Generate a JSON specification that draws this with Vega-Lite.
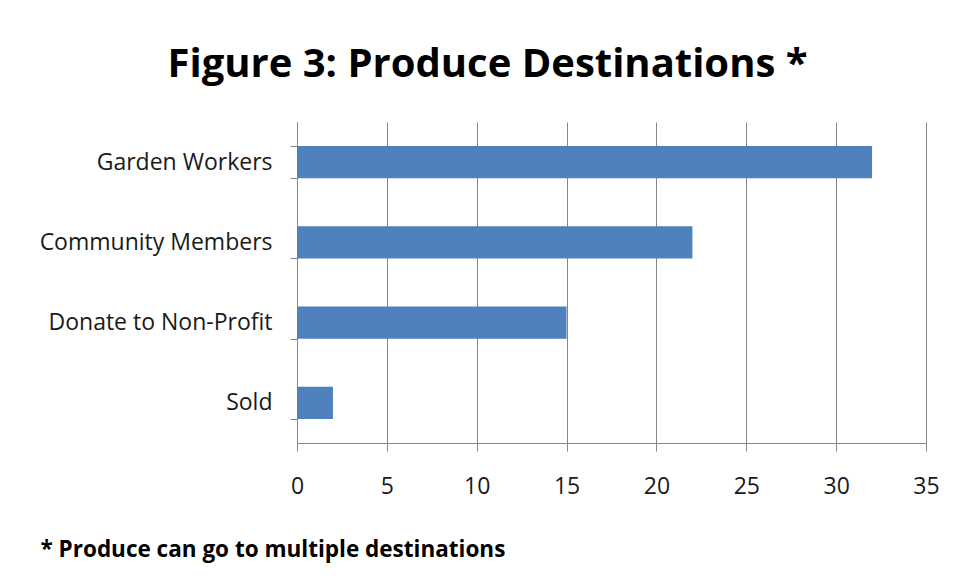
{
  "$schema": "https://vega.github.io/schema/vega-lite/v6.json",
  "autosize": {"type": "none"},
  "width": 629,
  "height": 321,
  "padding": {"left": 297, "top": 122, "right": 32, "bottom": 136},
  "background": "white",
  "title": {
    "text": "Figure 3: Produce Destinations *",
    "font": "Open Sans",
    "fontSize": 40,
    "fontWeight": "bold",
    "color": "#000000",
    "anchor": "middle",
    "frame": "group",
    "baseline": "alphabetic",
    "dx": -124,
    "offset": -6
  },
  "data": {
    "values": [
      {"destination": "Garden Workers", "count": 32},
      {"destination": "Community Members", "count": 22},
      {"destination": "Donate to Non-Profit", "count": 15},
      {"destination": "Sold", "count": 2}
    ]
  },
  "mark": {"type": "bar", "color": "#4F81BD"},
  "encoding": {
    "y": {
      "field": "destination",
      "type": "nominal",
      "sort": null,
      "scale": {"paddingInner": 0.6, "paddingOuter": 0.3},
      "axis": {
        "title": null,
        "tickBand": "extent",
        "domainColor": "#868686",
        "tickColor": "#868686",
        "tickSize": 7,
        "labelPadding": 18,
        "labelLimit": 400,
        "labelFont": "Open Sans",
        "labelFontSize": 23,
        "labelColor": "#1a1a1a"
      }
    },
    "x": {
      "field": "count",
      "type": "quantitative",
      "scale": {"domain": [0, 35], "nice": false},
      "axis": {
        "values": [0, 5, 10, 15, 20, 25, 30, 35],
        "grid": true,
        "gridColor": "#868686",
        "domainColor": "#868686",
        "tickColor": "#868686",
        "tickSize": 8,
        "labelFlush": false,
        "labelPadding": 24,
        "labelFont": "Open Sans",
        "labelFontSize": 23,
        "labelColor": "#1a1a1a",
        "title": "* Produce can go to multiple destinations",
        "titleFont": "Open Sans",
        "titleFontSize": 22.5,
        "titleFontWeight": "bold",
        "titleColor": "#000000",
        "titleAlign": "left",
        "titleAnchor": "start",
        "titleBaseline": "alphabetic",
        "titleX": -257,
        "titleY": 113
      }
    }
  },
  "config": {"view": {"stroke": null}}
}
